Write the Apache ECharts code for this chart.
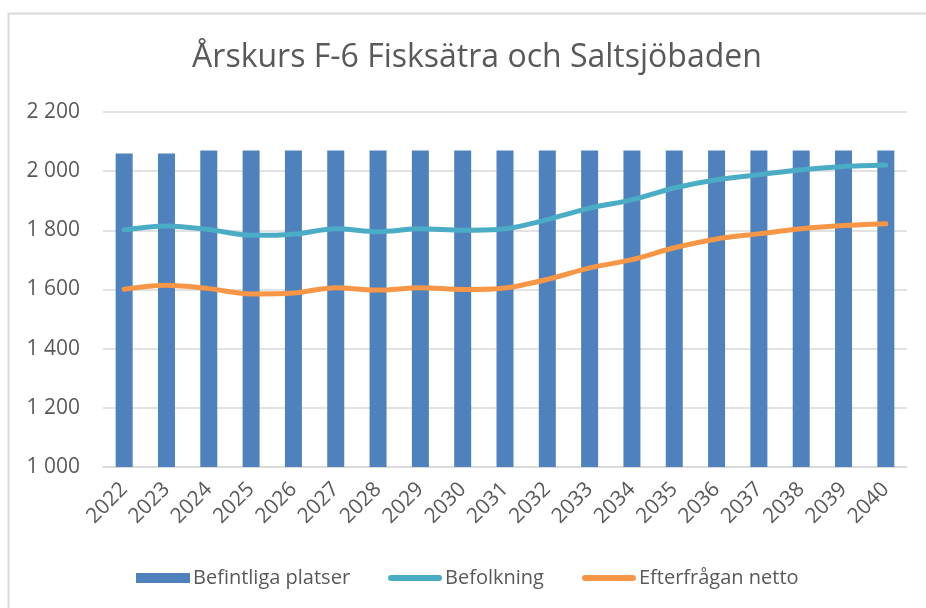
<!DOCTYPE html>
<html>
<head>
<meta charset="utf-8">
<script src="https://cdn.jsdelivr.net/npm/echarts@6/dist/echarts.min.js"></script>
<style>
html,body{margin:0;padding:0;background:#fff;}
#chart{width:926px;height:608px;}
</style>
</head>
<body>
<div id="chart"></div>
<script>
const years = ['2022','2023','2024','2025','2026','2027','2028','2029','2030','2031','2032','2033','2034','2035','2036','2037','2038','2039','2040'];
const befintligaPlatser = [2060,2060,2070,2070,2070,2070,2070,2070,2070,2070,2070,2070,2070,2070,2070,2070,2070,2070,2070];
const befolkning = [1802,1815,1803,1783,1787,1805,1795,1805,1800,1805,1836,1875,1903,1943,1971,1988,2005,2016,2021];
const efterfraganNetto = [1601,1614,1603,1585,1588,1606,1598,1606,1600,1605,1634,1673,1701,1741,1771,1788,1805,1816,1822];
const yTicks = {min:1000, max:2200, interval:200};

const textColor = '#595959';
const fontFam = '"Open Sans", "Liberation Sans", sans-serif';
const chart = echarts.init(document.getElementById('chart'), null, {renderer:'canvas'});
chart.setOption({
  animation:false,
  backgroundColor:'#fff',
  graphic:[{
    type:'rect', shape:{x:8.5,y:13.5,width:940,height:620},
    style:{fill:'none', stroke:'#d9d9d9', lineWidth:2}, silent:true, z:-1
  }],
  title:{
    text:'Årskurs F-6 Fisksätra och Saltsjöbaden',
    left:472, textAlign:'center', top:37,
    textStyle:{fontFamily:fontFam, fontSize:32, fontWeight:'normal', color:textColor}
  },
  legend:{
    bottom:15, left:131,
    itemGap:38, itemWidth:54, itemHeight:10,
    textStyle:{fontFamily:fontFam, fontSize:20, color:textColor, padding:[0,0,0,-2]},
    data:[
      {name:'Befintliga platser', icon:'rect'},
      {name:'Befolkning', icon:'path://M3,3 L51,3 A3,3 0 0 1 51,9 L3,9 A3,3 0 0 1 3,3 Z'},
      {name:'Efterfrågan netto', icon:'path://M3,3 L51,3 A3,3 0 0 1 51,9 L3,9 A3,3 0 0 1 3,3 Z'}
    ]
  },
  grid:{left:103, right:19, top:112, bottom:141, containLabel:false},
  xAxis:{
    type:'category', data:years,
    axisLine:{show:true, lineStyle:{color:'#d9d9d9', width:1.5}},
    axisTick:{show:false},
    axisLabel:{rotate:45, fontFamily:fontFam, fontSize:21, color:textColor, margin:19, interval:0}
  },
  yAxis:{
    type:'value', min:yTicks.min, max:yTicks.max, interval:yTicks.interval,
    axisLine:{show:false}, axisTick:{show:false},
    splitLine:{lineStyle:{color:'#d9d9d9', width:1.5}},
    axisLabel:{fontFamily:fontFam, fontSize:21, color:textColor, margin:23,
      formatter:v=>String(v).replace(/\B(?=(\d{3})+(?!\d))/g,' ')}
  },
  series:[
    {name:'Befintliga platser', type:'bar', data:befintligaPlatser, barWidth:17,
     itemStyle:{color:'#4F81BD'}},
    {name:'Befolkning', type:'line', data:befolkning, smooth:0.3, symbol:'none',
     lineStyle:{color:'#4BACC6', width:5, cap:'round'}, itemStyle:{color:'#4BACC6'}},
    {name:'Efterfrågan netto', type:'line', data:efterfraganNetto, smooth:0.3, symbol:'none',
     lineStyle:{color:'#F79646', width:5, cap:'round'}, itemStyle:{color:'#F79646'}}
  ]
});
</script>
</body>
</html>
